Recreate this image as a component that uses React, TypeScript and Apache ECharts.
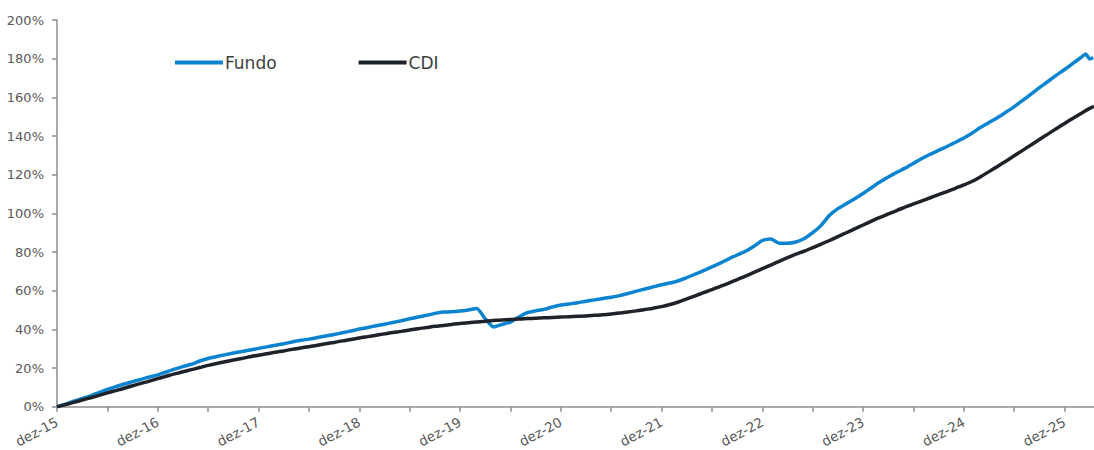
import React, { useEffect, useRef } from "react";
import * as echarts from "echarts";

// x = months since dez-15
const yearLabels = ["dez-15", "dez-16", "dez-17", "dez-18", "dez-19", "dez-20", "dez-21", "dez-22", "dez-23", "dez-24", "dez-25"];

// Fundo, monthly values m0..m122 (%), plus tail points
const fundoMonthly = [
  0, 1.4, 2.9, 4.3, 5.7, 7.3, 9.0, 10.4, 11.8, 13.0, 14.2, 15.4, 16.5,
  18.0, 19.5, 20.8, 22.0, 23.7, 25.0, 26.0, 26.9, 27.8, 28.6, 29.4, 30.2,
  31.0, 31.8, 32.6, 33.5, 34.4, 35.0, 35.8, 36.6, 37.4, 38.3, 39.2, 40.2,
  41.0, 41.9, 42.7, 43.6, 44.5, 45.5, 46.4, 47.3, 48.3, 49.0, 49.1, 49.5,
  50.1, 50.8, 45.5, 41.3, 42.6, 43.8, 46.4, 48.7, 49.6, 50.4, 51.6, 52.6,
  53.2, 53.8, 54.6, 55.3, 56.0, 56.6, 57.5, 58.6, 59.8, 60.9, 62.0, 63.1,
  64.0, 65.2, 66.8, 68.6, 70.4, 72.4, 74.3, 76.5, 78.5, 80.4, 83.0, 86.0,
  86.8, 84.6, 84.6, 85.2, 87.0, 90.0, 93.8, 99.0, 102.5, 105.0, 107.6, 110.3,
  113.3, 116.2, 118.8, 121.2, 123.4, 125.9, 128.4, 130.6, 132.6, 134.6, 136.8, 139.0,
  141.6, 144.5, 147.0, 149.5, 152.3, 155.2, 158.4, 161.7, 165.0, 168.2, 171.4, 174.4,
  177.6, 180.8,
];
const fundoTail: [number, number][] = [[122.5, 182.4], [123, 179.8], [123.4, 180.6]];

// CDI, monthly values m0..m123 (%), plus tail point
const cdiMonthly = [
  0, 1.1, 2.3, 3.5, 4.7, 5.9, 7.2, 8.4, 9.6, 10.9, 12.1, 13.3, 14.6,
  15.8, 17.0, 18.1, 19.2, 20.3, 21.4, 22.4, 23.3, 24.2, 25.0, 25.9, 26.7,
  27.4, 28.2, 28.9, 29.7, 30.4, 31.1, 31.8, 32.6, 33.3, 34.1, 34.8, 35.6,
  36.3, 37.0, 37.7, 38.4, 39.0, 39.7, 40.4, 41.0, 41.6, 42.1, 42.6, 43.1,
  43.5, 43.9, 44.3, 44.6, 44.9, 45.1, 45.4, 45.6, 45.8, 46.0, 46.2, 46.4,
  46.6, 46.8, 47.0, 47.3, 47.6, 48.0, 48.5, 49.0, 49.6, 50.3, 51.0, 51.8,
  52.9, 54.2, 55.8, 57.4, 59.0, 60.6, 62.3, 64.0, 65.8, 67.6, 69.5, 71.4,
  73.3, 75.2, 77.1, 78.9, 80.5, 82.3, 84.1, 86.0, 88.0, 90.0, 92.0, 94.0,
  96.0, 97.9, 99.7, 101.5, 103.2, 104.9, 106.5, 108.1, 109.7, 111.3, 113.0, 114.7,
  116.6, 119.0, 121.6, 124.3, 127.0, 129.8, 132.6, 135.4, 138.2, 141.0, 143.8, 146.5,
  149.2, 151.8, 154.3,
];
const cdiTail: [number, number][] = [[123.5, 155.3]];

const FONT = "DejaVu Sans";

export default function App() {
  const ref = useRef<HTMLDivElement>(null);
  useEffect(() => {
    if (!ref.current) return;
    const chart = echarts.init(ref.current, undefined, { renderer: "svg" });
    const fundoData = fundoMonthly.map((v, i) => [i, v]).concat(fundoTail);
    const cdiData = cdiMonthly.map((v, i) => [i, v]).concat(cdiTail);
    chart.setOption({
      animation: false,
      backgroundColor: "#ffffff",
      grid: { left: 57, right: 0, top: 20, bottom: 42, containLabel: false },
      legend: {
        left: 175,
        top: 54,
        padding: 0,
        itemWidth: 48,
        itemHeight: 4,
        itemGap: 82,
        icon: "rect",
        textStyle: { fontFamily: FONT, fontSize: 17, color: "#404040", padding: [0, 0, 0, -3] },
        data: ["Fundo", "CDI"],
      },
      xAxis: {
        type: "value",
        min: 0,
        max: 123.5,
        interval: 6,
        splitLine: { show: false },
        axisLine: { show: true, lineStyle: { color: "#8c8c8c", width: 1.5 } },
        axisTick: { show: true, length: 5, lineStyle: { color: "#8c8c8c", width: 1.5 } },
        axisLabel: {
          rotate: 28,
          margin: 14,
          fontFamily: FONT,
          fontSize: 13.5,
          color: "#595959",
          showMaxLabel: false,
          formatter: (v: number) => (v % 12 === 0 ? yearLabels[v / 12] ?? "" : ""),
        },
      },
      yAxis: {
        type: "value",
        min: 0,
        max: 200,
        interval: 20,
        splitLine: { show: false },
        axisLine: { show: true, lineStyle: { color: "#8c8c8c", width: 1.5 } },
        axisTick: { show: true, length: 5, lineStyle: { color: "#8c8c8c", width: 1.5 } },
        axisLabel: {
          margin: 13,
          fontFamily: FONT,
          fontSize: 13,
          color: "#595959",
          formatter: "{value}%",
        },
      },
      series: [
        {
          name: "Fundo",
          type: "line",
          data: fundoData,
          showSymbol: false,
          symbol: "none",
          smooth: 0.2,
          lineStyle: { color: "#0a84d0", width: 3.5 },
          itemStyle: { color: "#0a84d0" },
        },
        {
          name: "CDI",
          type: "line",
          data: cdiData,
          showSymbol: false,
          symbol: "none",
          smooth: 0.3,
          lineStyle: { color: "#1e2329", width: 3.5 },
          itemStyle: { color: "#1e2329" },
        },
      ],
    });
    return () => chart.dispose();
  }, []);
  return (
    <div
      ref={ref}
      style={{ position: "fixed", left: 0, top: 0, width: 1094, height: 450 }}
    />
  );
}
